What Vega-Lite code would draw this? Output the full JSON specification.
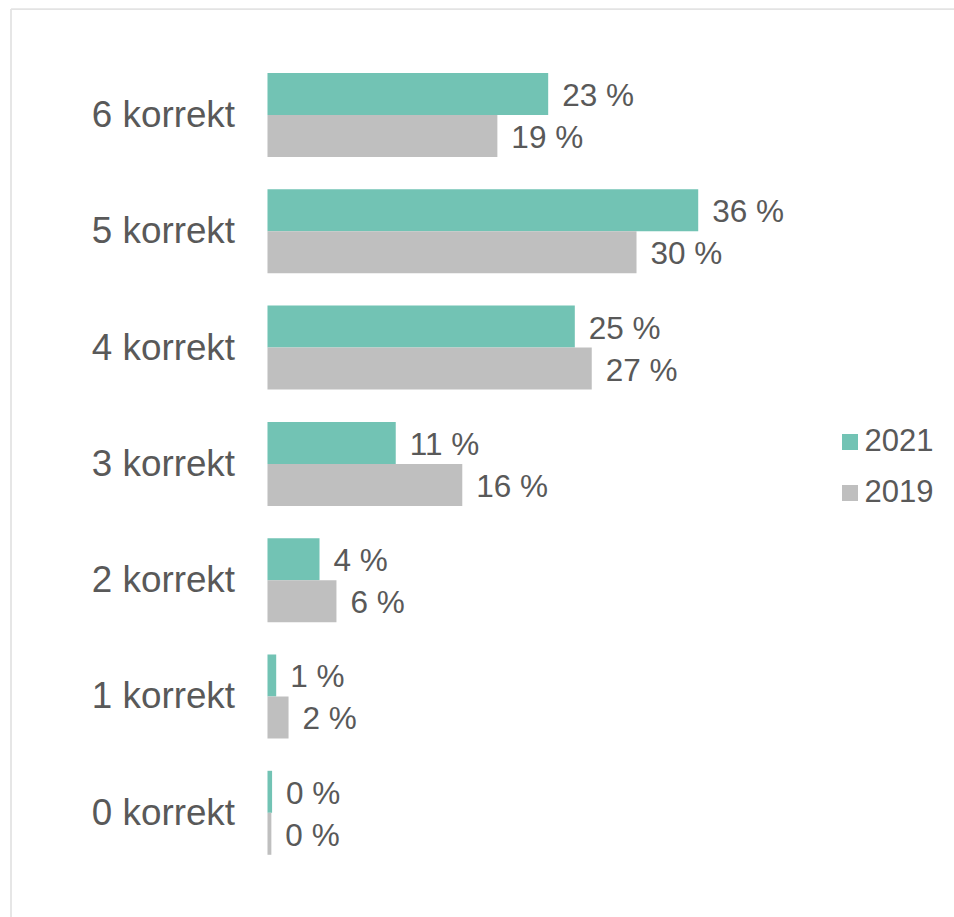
{
  "$schema": "https://vega.github.io/schema/vega-lite/v6.json",
  "width": 943.5,
  "height": 908.5,
  "autosize": {"type": "none"},
  "padding": {"left": 10.5, "top": 8.5, "right": 0, "bottom": 0},
  "background": "white",
  "config": {"view": {"stroke": null}, "font": "Liberation Sans"},
  "data": {
    "values": [
      {"cat": "6 korrekt", "year": "2021", "value": 23.2, "label": "23 %"},
      {"cat": "6 korrekt", "year": "2019", "value": 19.0, "label": "19 %"},
      {"cat": "5 korrekt", "year": "2021", "value": 35.6, "label": "36 %"},
      {"cat": "5 korrekt", "year": "2019", "value": 30.5, "label": "30 %"},
      {"cat": "4 korrekt", "year": "2021", "value": 25.4, "label": "25 %"},
      {"cat": "4 korrekt", "year": "2019", "value": 26.8, "label": "27 %"},
      {"cat": "3 korrekt", "year": "2021", "value": 10.6, "label": "11 %"},
      {"cat": "3 korrekt", "year": "2019", "value": 16.1, "label": "16 %"},
      {"cat": "2 korrekt", "year": "2021", "value": 4.3, "label": "4 %"},
      {"cat": "2 korrekt", "year": "2019", "value": 5.7, "label": "6 %"},
      {"cat": "1 korrekt", "year": "2021", "value": 0.72, "label": "1 %"},
      {"cat": "1 korrekt", "year": "2019", "value": 1.74, "label": "2 %"},
      {"cat": "0 korrekt", "year": "2021", "value": 0.38, "label": "0 %"},
      {"cat": "0 korrekt", "year": "2019", "value": 0.32, "label": "0 %"}
    ]
  },
  "encoding": {
    "y": {
      "field": "cat",
      "type": "nominal",
      "sort": ["6 korrekt", "5 korrekt", "4 korrekt", "3 korrekt", "2 korrekt", "1 korrekt", "0 korrekt"],
      "scale": {"paddingInner": 0.2777, "paddingOuter": 0.5447, "align": 0.509},
      "axis": {
        "title": null,
        "ticks": false,
        "tickSize": 0,
        "domain": true,
        "domainColor": "#e3e3e3",
        "domainWidth": 1.75,
        "labelPadding": -224,
        "labelAlign": "right",
        "labelBaseline": "middle",
        "labelFontSize": 36.8,
        "labelColor": "#595959",
        "labelLimit": 400,
        "labelOffset": 1,
        "grid": false
      }
    },
    "yOffset": {"field": "year", "type": "nominal", "sort": ["2021", "2019"], "scale": {"paddingInner": 0, "paddingOuter": 0}}
  },
  "layer": [
    {
      "mark": {"type": "bar"},
      "encoding": {
        "x": {
          "field": "value",
          "type": "quantitative",
          "scale": {"domain": [-21.24, 56.74], "nice": false},
          "axis": {
            "orient": "top",
            "title": null,
            "labels": false,
            "ticks": false,
            "grid": false,
            "domain": true,
            "domainColor": "#e3e3e3",
            "domainWidth": 1.75
          }
        },
        "x2": {"datum": 0},
        "color": {
          "field": "year",
          "type": "nominal",
          "scale": {"domain": ["2021", "2019"], "range": ["#72c3b4", "#bfbfbf"]},
          "legend": {
            "orient": "none",
            "legendX": 824,
            "legendY": 418,
            "title": null,
            "symbolType": "square",
            "symbolSize": 256,
            "symbolStrokeWidth": 0,
            "labelFontSize": 31,
            "labelColor": "#595959",
            "labelOffset": -1,
            "rowPadding": 19,
            "padding": 0
          }
        }
      }
    },
    {
      "mark": {"type": "text", "align": "left", "baseline": "middle", "dx": 14, "dy": 3, "fontSize": 31.5, "color": "#595959"},
      "encoding": {
        "x": {"field": "value", "type": "quantitative"},
        "text": {"field": "label"}
      }
    }
  ]
}
